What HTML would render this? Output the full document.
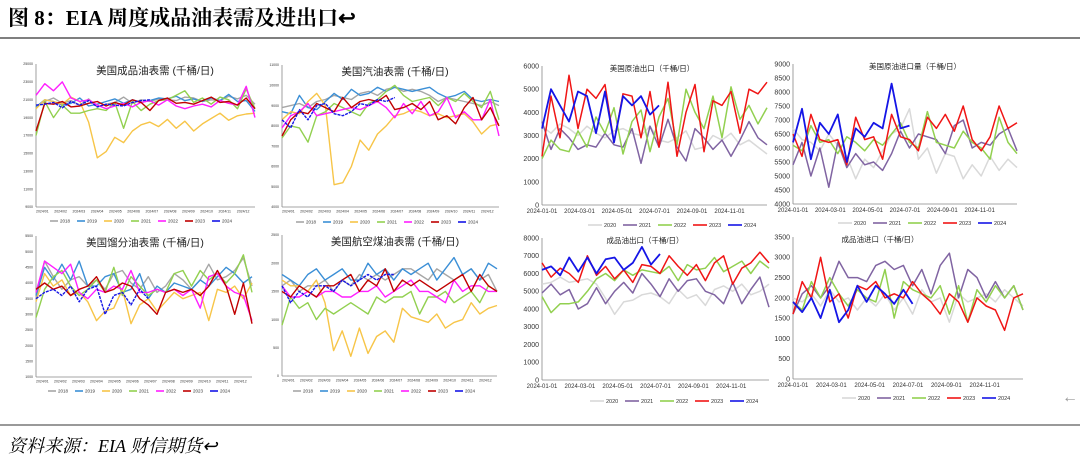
<!DOCTYPE html>
<html><head><meta charset="utf-8">
<style>
html,body{margin:0;padding:0;background:#fff;}
svg{display:block;}
text{font-family:"Liberation Sans","Noto Sans CJK SC",sans-serif;}
.serif{font-family:"Liberation Serif","Noto Serif CJK SC",serif;}
</style></head>
<body>
<svg id="root" width="1080" height="465" viewBox="0 0 1080 465" xmlns="http://www.w3.org/2000/svg">
<text class="serif" x="8" y="25" font-size="21" font-weight="bold" fill="#000">图 8：EIA 周度成品油表需及进出口↩</text>
<line x1="0" y1="38" x2="1080" y2="38" stroke="#333" stroke-width="1.2"/>
<line x1="0" y1="425" x2="1080" y2="425" stroke="#333" stroke-width="1"/>
<text class="serif" x="8" y="452" font-size="18" font-style="italic" fill="#000">资料来源：EIA 财信期货↩</text>
<text x="1062" y="402" font-size="16" fill="#999">←</text>
<g id="charts"></g>
</svg>
<script>
const yearsL = ["2018","2019","2020","2021","2022","2023","2024"];
const yearsR = ["2020","2021","2022","2023","2024"];
const monthLabelsL = ["2024/01","2024/02","2024/03","2024/04","2024/05","2024/06","2024/07","2024/08","2024/09","2024/10","2024/11","2024/12"];
const dateLabelsR = ["2024-01-01","2024-03-01","2024-05-01","2024-07-01","2024-09-01","2024-11-01"];

const c1Ticks = [9000,11000,13000,15000,17000,19000,21000,23000,25000];
const c1_2018 = [20300,20800,21200,20600,20900,20400,21100,20200,20500,20700,21300,20600,21000,20800,21100,21000,20900,21300,21200,20800,21000,20900,21400,21100,21500,20500];
const c1_2019 = [20200,21000,20800,20400,20600,21200,20300,20500,20800,21100,20600,21000,20700,20900,21200,21100,21400,20900,21100,20800,21200,20900,21600,20800,20900,19700];
const c1_2020 = [20000,21000,20800,20500,21300,20800,18500,14500,15200,16800,16200,17500,18200,18500,18000,18800,17800,18600,17500,18300,18900,19500,18700,19200,19400,19500];
const c1_2021 = [17000,20800,19000,20400,19500,19500,19800,20000,19800,20700,17800,20800,19800,20500,20900,21000,21500,22000,20700,21200,20500,21300,21000,20000,22200,20000];
const c1_2022 = [21500,22800,22000,23000,21200,20800,21000,20400,20000,20300,20600,20200,20700,20900,20400,21000,20300,20000,20300,20500,20200,20900,20600,20400,22500,19000];
const c1_2023 = [17500,20600,20500,20800,20200,20300,20600,20800,20300,20700,20400,21000,20700,19800,20900,21200,20600,20700,20500,20900,21300,20700,20800,20400,21200,20000];
const c1_2024 = [20400,20500,20700,20100,20800,20400,20900,20200,20500,20400,20300,20700,20900,21000];

const c2Ticks = [4000,5000,6000,7000,8000,9000,10000,11000];
const c2_2018 = [8900,9000,9100,8900,9200,9300,9500,9400,9300,9600,9700,9500,9800,9900,9700,9800,9700,9500,9200,9400,9300,9200,9100,9000,9200,9000];
const c2_2019 = [8700,8600,9500,8900,8800,9200,9600,9300,9800,9500,9600,9900,9700,9900,9800,9700,9800,9900,9600,9400,9500,9700,9300,9200,9300,9200];
const c2_2020 = [8300,8700,8600,9200,9600,9000,5100,5200,6000,7300,6800,7600,8000,8500,8600,8800,8700,8500,8600,8400,8500,8600,8200,7600,8000,8100];
const c2_2021 = [7400,8000,7900,7200,8500,8700,9100,8900,8700,8500,9100,9300,9700,10000,9500,9200,9300,9400,9000,9400,9200,9600,9200,8900,9700,8300];
const c2_2022 = [7900,8500,8700,9100,8500,8600,8700,8800,8900,8800,9000,9200,8900,8400,9100,8600,9200,8500,8700,9400,8400,8700,8300,8300,9300,7500];
const c2_2023 = [7500,8300,8700,8600,9100,8900,8700,9400,8900,9200,9300,9200,9500,8800,8900,9100,8800,9200,8300,8500,8100,8900,9400,8300,8900,8000];
const c2_2024 = [8300,7900,8800,8300,9000,9100,8600,8500,8700,9100,9000,9300,9200,9400];

const c3Ticks = [0,1000,2000,3000,4000,5000,6000];
const c3_2020 = [3400,3100,3500,3300,3000,3400,3100,2900,3200,3300,3100,3000,3400,2800,2700,2900,3200,2400,2500,3000,2800,3100,2600,2800,2500,2200];
const c3_2021 = [3600,2400,3300,2900,2400,2600,2500,3100,2600,2500,3300,1800,3400,2500,3700,2500,1900,3300,2900,2400,2800,2100,2800,3600,2900,2600];
const c3_2022 = [2000,2800,2400,2300,3200,2500,3800,3100,4200,2200,3600,4100,2300,3800,4600,2600,5000,4000,3300,4700,2900,5100,3700,4300,3500,4200];
const c3_2023 = [2100,4700,2900,5600,3300,5000,4600,5200,2700,4800,4700,2900,4900,2500,5300,2100,4000,5200,2300,4500,4300,4900,3100,5000,4800,5300];
const c3_2024 = [3300,5000,4300,3600,4900,4700,3100,4900,2700,4700,4300,4700,3900,4300];

const c4Ticks = [4000,4500,5000,5500,6000,6500,7000,7500,8000,8500,9000];
const c4_2020 = [6700,6300,6200,5900,6500,6100,5700,4900,5600,5300,5900,6500,6700,7400,5600,6000,5100,5800,5700,4900,5400,5000,5700,5200,5600,5300];
const c4_2021 = [5400,6200,5000,6000,4600,6200,5300,5800,5400,5500,5200,5800,6600,6000,6500,6400,6300,5800,6800,7000,6000,6200,6100,6500,6700,5900];
const c4_2022 = [6100,5900,6800,6200,6300,5800,6400,6200,5900,6300,6100,6500,6900,6200,6000,7300,6200,6100,6000,6600,6200,6000,5600,7100,6200,5800];
const c4_2023 = [6500,5700,7200,6300,6200,6300,5400,7100,6300,6400,5600,7200,6400,6300,5900,7100,6700,7200,6600,7500,6300,5900,6400,7500,6700,6900];
const c4_2024 = [6200,7400,5600,6900,6500,7200,5500,6700,6400,6900,6700,8300,6700,6800];

const c5Ticks = [1000,1500,2000,2500,3000,3500,4000,4500,5000,5500];
const c5_2018 = [3500,4700,4200,3800,4100,4200,3900,4100,3800,4300,4400,4000,3800,4200,3700,3900,4300,4100,3800,4100,4600,4100,4200,4400,4800,3900];
const c5_2019 = [3600,4500,4100,4600,4100,4700,3900,3900,4200,4300,3700,3800,4300,3500,3900,3700,4000,3900,3800,4100,3900,4200,4500,4300,4000,4200];
const c5_2020 = [3400,4300,3900,4100,3600,3700,3400,2800,3100,3200,3800,2700,3300,3500,3100,3400,3700,3500,3600,3700,2800,3800,3700,3900,3500,4000];
const c5_2021 = [2900,3800,4200,4400,3900,3600,3800,4100,3700,4500,3600,4200,3900,3600,3800,3700,4300,4400,3900,4400,4100,4300,4000,4300,4900,3700];
const c5_2022 = [3700,4700,4500,4300,4600,3700,3500,3800,3700,3900,3800,4400,3700,3700,3800,3700,3800,3600,3800,3200,4200,4300,3900,3700,3600,2800];
const c5_2023 = [3800,4000,3800,3900,3600,3800,3900,4200,3700,3800,4000,3900,3500,3300,3000,3700,3800,3700,3800,3600,3900,4400,3900,3000,4000,2700];
const c5_2024 = [3500,3700,3800,3600,3900,3400,3800,3900,3000,3600,3700,3300,3800,3500];

const c6Ticks = [0,500,1000,1500,2000,2500];
const c6_2018 = [1600,1700,1500,1600,1600,1700,1500,1700,1600,1800,1700,1800,1700,1800,1900,1900,1800,1700,1900,1800,1700,1800,1900,1700,1800,1500];
const c6_2019 = [1800,1700,1600,1800,1900,1700,1800,1900,1700,1700,2000,1800,1900,1700,1900,1800,1900,2000,1700,1900,2100,1800,1900,1700,2000,1900];
const c6_2020 = [1700,1600,1600,1500,1700,1300,450,800,350,850,400,700,800,600,1200,1050,1000,950,1100,850,950,1000,1300,1100,1200,1250];
const c6_2021 = [900,1400,1200,1300,1000,1200,1100,1200,1300,1200,1100,1400,1300,1400,1400,1500,1100,1400,1400,1500,1300,1400,1500,1300,1600,1500];
const c6_2022 = [1600,1400,1400,1500,1400,1500,1500,1400,1400,1500,1500,1600,1400,1500,1600,1700,1500,1500,1400,1300,1700,1500,1600,1600,1500,1500];
const c6_2023 = [1500,1400,1600,1500,1400,1600,1600,1700,1800,1500,1700,1600,1900,1500,1700,1600,1700,1600,1500,1600,1700,1800,1500,1800,1600,1500];
const c6_2024 = [1600,1300,1500,1400,1600,1600,1500,1700,1600,1700,1800,1700,1800,1800];

const c7Ticks = [0,1000,2000,3000,4000,5000,6000,7000,8000];
const c7_2020 = [5400,5500,5800,5500,5600,5700,5400,4600,3700,4400,4500,4800,4900,4700,4300,5100,4600,4800,4200,5100,5300,5000,5400,4800,5000,5400];
const c7_2021 = [4900,5400,4800,5100,4000,4300,5200,4300,5000,5500,4900,6000,5400,4700,5700,5000,5600,5700,5000,4800,4300,5500,4300,5100,5800,4100];
const c7_2022 = [4700,3800,4300,4300,4400,5000,5700,6000,5600,6200,5900,6200,6100,6000,6400,5600,6500,6200,6300,6900,6100,6400,6700,6000,6700,6300];
const c7_2023 = [6600,5800,6300,6000,5500,7000,5900,6400,5700,6200,5500,6500,6400,6000,7000,6400,5900,6500,5600,6600,7000,5400,6300,6600,7200,6600];
const c7_2024 = [6200,6400,5900,6900,6100,6900,6000,6800,6900,6200,6600,7500,6500,7100];

const c8Ticks = [0,500,1000,1500,2000,2500,3000,3500];
const c8_2020 = [2000,1900,2100,1800,2200,1900,2000,1700,2000,1800,2100,1700,2000,1600,2200,1900,2000,1400,2100,1900,2000,2100,1900,2200,2000,1800];
const c8_2021 = [1600,2100,2300,2000,2300,2900,2500,2500,2400,2800,2900,2700,2800,2300,2700,2100,2800,3100,2000,2700,2500,2000,2400,2000,2300,1700];
const c8_2022 = [1900,1700,2400,2000,2500,2100,1800,2200,2000,1900,2700,1500,2400,2200,2100,2000,2300,1600,2300,1400,2200,1900,2300,2000,2300,1700];
const c8_2023 = [1600,2400,2000,3000,1900,2100,1500,2300,2200,2400,2000,2100,2000,2400,2100,1900,1600,2100,1900,1400,2000,1800,1700,1200,2000,2100];
const c8_2024 = [1900,1650,2000,1500,2200,1400,1700,2300,1900,2300,2100,1850,2200,1850];

const NS = "http://www.w3.org/2000/svg";
const host = document.getElementById("charts");
const colL = ["#a6a6a6","#3b8fd6","#f7c548","#92d050","#ff1fff","#c00000","#1515e6"];
const colR = ["#d9d9d9","#8064a2","#92d050","#f01515","#1515e6"];

function mk(tag, attrs, parent){
  const e = document.createElementNS(NS, tag);
  for (const k in attrs) e.setAttribute(k, attrs[k]);
  parent.appendChild(e);
  return e;
}

function drawChart(id, title, box, ticks, series, years, colors, xlabels, style){
  const g = mk("g", {}, host);
  
  
  const lo = ticks[0], hi = ticks[ticks.length-1];
  const yS = v => box.y1 - (v-lo)/(hi-lo)*(box.y1-box.y0);
  const xS = i => box.x0 + i/25*(box.x1-box.x0);
  const ya = mk("line", {x1:box.x0,y1:box.y0,x2:box.x0,y2:box.y1,stroke:"#888","stroke-width":0.8}, g);
  
  
  const xa = mk("line", {x1:box.x0,y1:box.y1,x2:box.x1,y2:box.y1,stroke:"#888","stroke-width":0.8}, g);
  
  
  ticks.forEach(t => {
    const tl = mk("text", {x:box.x0-3, y:yS(t)+style.tf*0.35, "font-size":style.tf, "text-anchor":"end", fill:"#333"}, g);
    tl.textContent = t;
    
    
  });
  xlabels.forEach((l, k) => {
    const x = style.left ? box.x0 + k/(xlabels.length)*(box.x1-box.x0) : box.x0 + (k*2)/12*(box.x1-box.x0);
    const xl = mk("text", {x:x, y:box.y1+style.xf+2, "font-size":style.xf, "text-anchor": style.left ? "start":"middle", fill:"#333"}, g);
    xl.textContent = l;
    
    
  });
  const tt = mk("text", {x:style.tx, y:box.y0+style.ty, "font-size":style.titleF, "text-anchor":"middle", fill:"#222"}, g);
  tt.textContent = title;
  
  
  series.forEach((arr, s) => {
    const pts = arr.map((v,i) => xS(i).toFixed(1)+","+yS(v).toFixed(1)).join(" ");
    const last = s === series.length-1;
    const pl = mk("polyline", {points:pts, fill:"none", stroke:colors[s], "stroke-width": (!style.left && last) ? style.sw+0.3 : style.sw, "stroke-linejoin":"round"}, g);
    if (style.left && last) pl.setAttribute("stroke-dasharray","3,1");
    
    
  });
  years.forEach((y, s) => {
    const lx = style.lx + s*style.ls;
    const ll = mk("line", {x1:lx, y1:style.ly, x2:lx+style.ll, y2:style.ly, stroke:colors[s], "stroke-width":1.6}, g);
    
    
    const lt = mk("text", {x:lx+style.ll+2, y:style.ly+style.lf*0.35, "font-size":style.lf, fill:"#333"}, g);
    lt.textContent = y;
    
    
  });
}

const L = (tx, ly, lx) => ({left:true, tf:3.5, xf:3.5, titleF:10.5, ty:10, tx:tx, sw:1.4, lx:lx, ly:ly, ls:27, ll:8, lf:4.5});
const R = (tx, ly, lx) => ({left:false, tf:7, xf:6, titleF:7.5, ty:5, tx:tx, sw:1.5, lx:lx, ly:ly, ls:35, ll:14, lf:5.5});

drawChart("chart-product-demand","美国成品油表需 (千桶/日)",{x0:36,x1:255,y0:64,y1:207},c1Ticks,[c1_2018,c1_2019,c1_2020,c1_2021,c1_2022,c1_2023,c1_2024],yearsL,colL,monthLabelsL,L(155,221,50));
drawChart("chart-gasoline-demand","美国汽油表需 (千桶/日)",{x0:282,x1:499,y0:65,y1:207},c2Ticks,[c2_2018,c2_2019,c2_2020,c2_2021,c2_2022,c2_2023,c2_2024],yearsL,colL,monthLabelsL,L(395,222,296));
drawChart("chart-crude-exports","美国原油出口（千桶/日）",{x0:542,x1:767,y0:66,y1:205},c3Ticks,[c3_2020,c3_2021,c3_2022,c3_2023,c3_2024],yearsR,colR,dateLabelsR,R(652,225,588));
drawChart("chart-crude-imports","美国原油进口量（千桶/日）",{x0:793,x1:1017,y0:64,y1:204},c4Ticks,[c4_2020,c4_2021,c4_2022,c4_2023,c4_2024],yearsR,colR,dateLabelsR,R(915,223,838));
drawChart("chart-distillate-demand","美国馏分油表需 (千桶/日)",{x0:36,x1:252,y0:236,y1:377},c5Ticks,[c5_2018,c5_2019,c5_2020,c5_2021,c5_2022,c5_2023,c5_2024],yearsL,colL,monthLabelsL,L(145,391,48));
drawChart("chart-jet-demand","美国航空煤油表需 (千桶/日)",{x0:282,x1:497,y0:235,y1:376},c6Ticks,[c6_2018,c6_2019,c6_2020,c6_2021,c6_2022,c6_2023,c6_2024],yearsL,colL,monthLabelsL,L(395,391,293));
drawChart("chart-product-exports","成品油出口（千桶/日）",{x0:542,x1:769,y0:238,y1:380},c7Ticks,[c7_2020,c7_2021,c7_2022,c7_2023,c7_2024],yearsR,colR,dateLabelsR,R(645,401,590));
drawChart("chart-product-imports","成品油进口（千桶/日）",{x0:793,x1:1023,y0:237,y1:379},c8Ticks,[c8_2020,c8_2021,c8_2022,c8_2023,c8_2024],yearsR,colR,dateLabelsR,R(880,398,842));
</script>
</body></html>
